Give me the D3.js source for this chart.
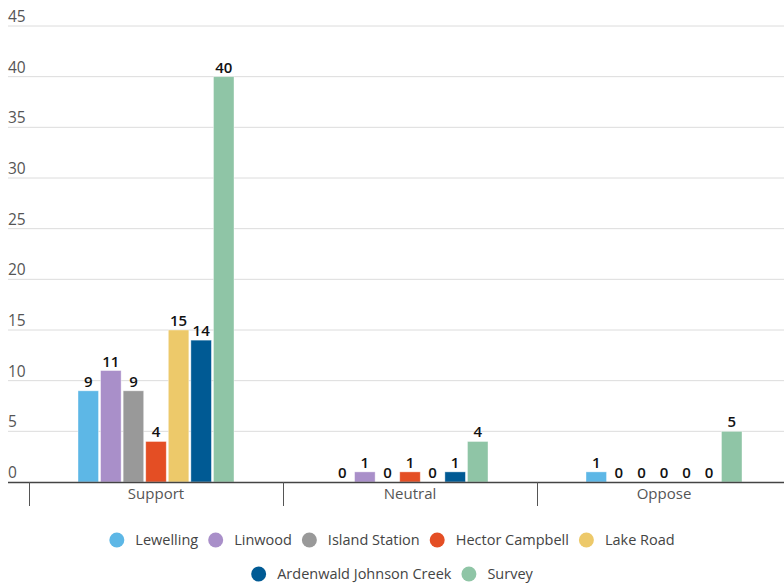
<!DOCTYPE html>
<html>
<head>
<meta charset="utf-8">
<script src="https://cdn.jsdelivr.net/npm/d3@7"></script>
<style>
  html, body { margin: 0; padding: 0; background: #fff; }
  svg { display: block; font-family: "Open Sans", "DejaVu Sans", sans-serif; }
</style>
</head>
<body>
<div id="chart"></div>
<script>
const categories = ["Support", "Neutral", "Oppose"];
const seriesNames = ["Lewelling", "Linwood", "Island Station", "Hector Campbell", "Lake Road", "Ardenwald Johnson Creek", "Survey"];
const seriesColors = ["#5db7e6", "#a98fc9", "#999999", "#e44e24", "#edc96a", "#005a94", "#8fc5a6"];
// one array per series, values in category order
const lewelling = [9, 0, 1];
const linwood = [11, 1, 0];
const islandStation = [9, 0, 0];
const hectorCampbell = [4, 1, 0];
const lakeRoad = [15, 0, 0];
const ardenwald = [14, 1, 0];
const survey = [40, 4, 5];
const yTicks = [0, 5, 10, 15, 20, 25, 30, 35, 40, 45];

const seriesValues = [lewelling, linwood, islandStation, hectorCampbell, lakeRoad, ardenwald, survey];

const W = 784, H = 584;
const svg = d3.select("#chart").append("svg").attr("width", W).attr("height", H);

const gridLeft = 8, gridRight = 784;
const x0 = d3.scaleBand().domain(categories).range([29, 791]);
const x1 = d3.scaleBand().domain(seriesNames).range([49, x0.bandwidth() - 49]).paddingInner(0.09);
const y = d3.scaleLinear().domain([0, 45]).range([482, 26]);

// horizontal gridlines and y labels
const grid = svg.append("g");
grid.selectAll("line").data(yTicks.filter(t => t > 0)).join("line")
  .attr("x1", gridLeft).attr("x2", gridRight)
  .attr("y1", d => y(d)).attr("y2", d => y(d))
  .attr("stroke", "#dcdcdc").attr("stroke-width", 1);
grid.selectAll("text").data(yTicks).join("text")
  .attr("x", gridLeft).attr("y", d => y(d) - 4)
  .attr("fill", "#555").attr("font-size", 15.5).attr("font-weight", 500)
  .text(d => d);

// bars
const groups = svg.append("g").selectAll("g").data(categories).join("g")
  .attr("transform", d => `translate(${x0(d)},0)`);

groups.each(function(cat, ci) {
  const rows = seriesNames.map((s, si) => ({ s, si, v: seriesValues[si][ci] }));
  const g = d3.select(this);
  g.selectAll("rect").data(rows.filter(r => r.v > 0)).join("rect")
    .attr("x", r => x1(r.s)).attr("width", x1.bandwidth())
    .attr("y", r => y(r.v)).attr("height", r => y(0) - y(r.v))
    .attr("fill", r => seriesColors[r.si])
    .attr("stroke", "#fff").attr("stroke-opacity", 0.5).attr("stroke-width", 0.8);
  g.selectAll("text").data(rows).join("text")
    .attr("x", r => x1(r.s) + x1.bandwidth() / 2)
    .attr("y", r => y(r.v) - 4)
    .attr("text-anchor", "middle")
    .attr("font-size", 15).attr("font-weight", 600).attr("fill", "#111")
    .text(r => r.v);
});

// baseline axis with category dividers
const axisG = svg.append("g");
axisG.append("line").attr("x1", gridLeft).attr("x2", gridRight)
  .attr("y1", y(0) + 0.5).attr("y2", y(0) + 0.5)
  .attr("stroke", "#444").attr("stroke-width", 1.5);
axisG.selectAll("line.div").data(categories).join("line").attr("class", "div")
  .attr("x1", d => x0(d) + 0.5).attr("x2", d => x0(d) + 0.5)
  .attr("y1", y(0)).attr("y2", y(0) + 24)
  .attr("stroke", "#555").attr("stroke-width", 1);
axisG.selectAll("text").data(categories).join("text")
  .attr("x", d => x0(d) + x0.bandwidth() / 2).attr("y", y(0) + 17)
  .attr("text-anchor", "middle").attr("font-size", 15).attr("font-weight", 500).attr("fill", "#555")
  .text(d => d);

// legend, two centred rows
const legendRows = [seriesNames.slice(0, 5), seriesNames.slice(5)];
const legendY = [540, 574];
legendRows.forEach((row, ri) => {
  const lg = svg.append("g");
  let cx = 0;
  row.forEach(name => {
    const si = seriesNames.indexOf(name);
    const item = lg.append("g").attr("transform", `translate(${cx},0)`);
    item.append("circle").attr("cx", 7.5).attr("cy", 0).attr("r", 7.5).attr("fill", seriesColors[si]);
    const t = item.append("text").attr("x", 26).attr("y", 5)
      .attr("font-size", 14.5).attr("font-weight", 500).attr("fill", "#444").text(name);
    cx += 26 + t.node().getComputedTextLength() + 10;
  });
  const total = cx - 10;
  lg.attr("transform", `translate(${(W - total) / 2},${legendY[ri]})`);
});
</script>
</body>
</html>
